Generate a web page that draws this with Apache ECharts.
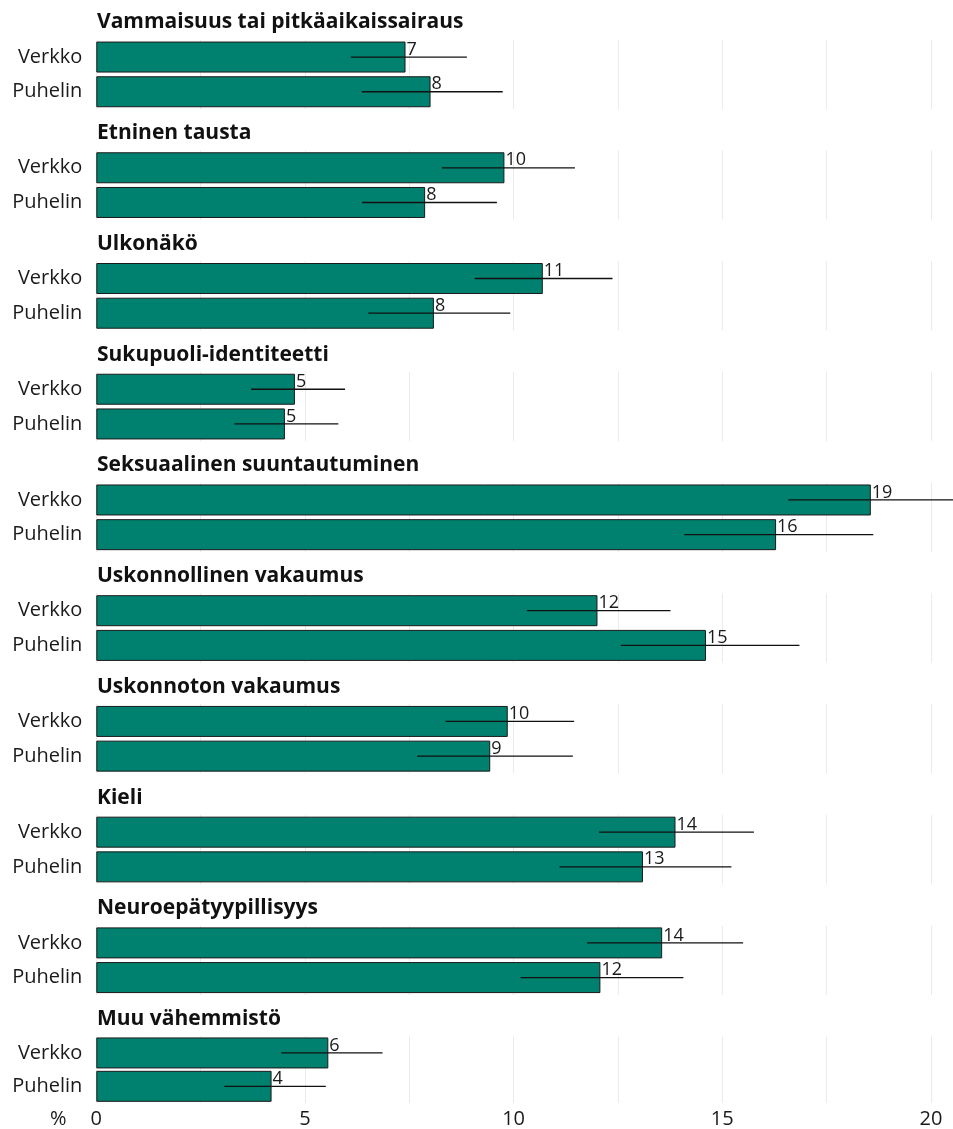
<!DOCTYPE html>
<html>
<head>
<meta charset="utf-8">
<script src="https://cdn.jsdelivr.net/npm/echarts@6/dist/echarts.min.js"></script>
<style>
html,body{margin:0;padding:0;background:#fff;}
#chart{width:953px;height:1129px;}
</style>
</head>
<body>
<div id="chart"></div>
<script>
var groups = ['Vammaisuus tai pitkäaikaissairaus','Etninen tausta','Ulkonäkö','Sukupuoli-identiteetti','Seksuaalinen suuntautuminen','Uskonnollinen vakaumus','Uskonnoton vakaumus','Kieli','Neuroepätyypillisyys','Muu vähemmistö'];
var modes = ['Verkko','Puhelin'];
var verkko      = [7.41, 9.78, 10.70, 4.76, 18.56, 12.01, 9.86, 13.88, 13.56, 5.56];
var verkkoLow   = [6.10, 8.28, 9.07, 3.71, 16.58, 10.32, 8.37, 12.05, 11.76, 4.43];
var verkkoHigh  = [8.88, 11.47, 12.37, 5.96, 20.60, 13.76, 11.45, 15.76, 15.50, 6.86];
var puhelin     = [8.01, 7.88, 8.09, 4.52, 16.29, 14.61, 9.44, 13.10, 12.08, 4.20];
var puhelinLow  = [6.36, 6.37, 6.52, 3.31, 14.09, 12.57, 7.69, 11.10, 10.17, 3.07];
var puhelinHigh = [9.74, 9.60, 9.92, 5.80, 18.62, 16.85, 11.42, 15.22, 14.07, 5.50];
var xTicks = [0, 5, 10, 15, 20];

(function () {
var FONT = '"Open Sans", "Noto Sans", sans-serif';
var STEP = 110.73;
var chart = echarts.init(document.getElementById('chart'), null, {renderer: 'canvas'});

var grids = [], xAxes = [], yAxes = [], series = [], titles = [];
for (var i = 0; i < groups.length; i++) {
  var gTop = 39.7 + i * STEP;
  grids.push({left: 96.3, width: 834.6, top: gTop, height: 69.4});
  titles.push({
    text: groups[i], left: 97, top: 12 + i * STEP, padding: 0,
    textStyle: {fontFamily: FONT, fontWeight: 'bold', fontSize: 21, color: '#111'}
  });
  xAxes.push({
    gridIndex: i, type: 'value', min: 0, max: 20, interval: 2.5,
    axisLine: {show: false}, axisTick: {show: false},
    splitLine: {show: true, lineStyle: {color: '#ebebeb', width: 1}},
    axisLabel: {
      show: i === groups.length - 1, margin: 6,
      fontFamily: FONT, fontSize: 20, color: '#1a1a1a',
      formatter: function (v) { return xTicks.indexOf(v) >= 0 ? String(v) : ''; }
    }
  });
  yAxes.push({
    gridIndex: i, type: 'category', data: modes, inverse: true,
    axisLine: {show: false}, axisTick: {show: false}, splitLine: {show: false},
    axisLabel: {margin: 14, fontFamily: FONT, fontSize: 20, color: '#1a1a1a'}
  });
  series.push({
    type: 'bar', xAxisIndex: i, yAxisIndex: i,
    data: [verkko[i], puhelin[i]],
    barWidth: 31,
    itemStyle: {color: '#00806E', borderColor: '#1a1a1a', borderWidth: 1},
    label: {
      show: true, position: ['100%', 0], offset: [1, -1],
      fontFamily: FONT, fontSize: 18, color: '#1a1a1a',
      formatter: function (p) { return String(Math.round(p.value)); }
    },
    silent: true, animation: false
  });
  series.push({
    type: 'custom', xAxisIndex: i, yAxisIndex: i, clip: false,
    data: [[verkkoLow[i], verkkoHigh[i], 0], [puhelinLow[i], puhelinHigh[i], 1]],
    encode: {x: [0, 1], y: 2},
    renderItem: function (params, api) {
      var a = api.coord([api.value(0), api.value(2)]);
      var b = api.coord([api.value(1), api.value(2)]);
      return {type: 'line', shape: {x1: a[0], y1: a[1], x2: b[0], y2: b[1]},
        style: {stroke: '#111', lineWidth: 1.3}};
    },
    z: 5, silent: true, animation: false
  });
}

chart.setOption({
  backgroundColor: '#fff',
  animation: false,
  title: titles,
  grid: grids,
  xAxis: xAxes,
  yAxis: yAxes,
  series: series,
  graphic: [{
    type: 'text', left: 50, top: 1109,
    style: {text: '%', fontFamily: FONT, fontSize: 20, fill: '#1a1a1a'}
  }]
});
})();
</script>
</body>
</html>
